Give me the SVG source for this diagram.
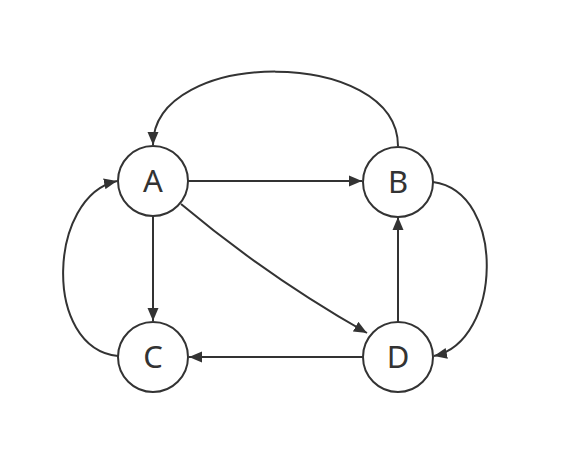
<svg xmlns="http://www.w3.org/2000/svg" width="565" height="454" viewBox="0 0 565 454">
<style>
.node circle{fill:#fff;stroke:#333;stroke-width:2}
.node text{font-family:"Noto Sans","Open Sans","DejaVu Sans",sans-serif;font-size:31px;fill:#333;text-anchor:middle}
.edge{fill:none;stroke:#333;stroke-width:2;marker-end:url(#arr)}
</style>
<defs>
<marker id="arr" markerUnits="userSpaceOnUse" markerWidth="14" markerHeight="12" refX="13" refY="5.5" orient="auto" viewBox="0 0 14 11">
<path d="M0,0 L13,5.5 L0,11 z" fill="#333"/>
</marker>
</defs>
<rect width="565" height="454" fill="#fff"/>
<g id="connectors">
<path class="edge" d="M398,146 C398,47 153,47 153,145"/>
<path class="edge" d="M188,181 L362,181"/>
<path class="edge" d="M153,216 L153,321"/>
<path class="edge" d="M181,204 Q268,277 367,333"/>
<path class="edge" d="M398,322 L398,217"/>
<path class="edge" d="M363,357 L189,357"/>
<path class="edge" d="M118,356 C42,348 48,196 117,181"/>
<path class="edge" d="M433,182 C507,192 502,342 434,356"/>
</g>
<g id="A" class="node"><circle cx="153" cy="181" r="35"/><text x="153" y="192">A</text></g>
<g id="B" class="node"><circle cx="398" cy="182" r="35"/><text x="398" y="193">B</text></g>
<g id="C" class="node"><circle cx="153" cy="357" r="35"/><text x="153" y="368">C</text></g>
<g id="D" class="node"><circle cx="398" cy="357" r="35"/><text x="398" y="368">D</text></g>
</svg>
